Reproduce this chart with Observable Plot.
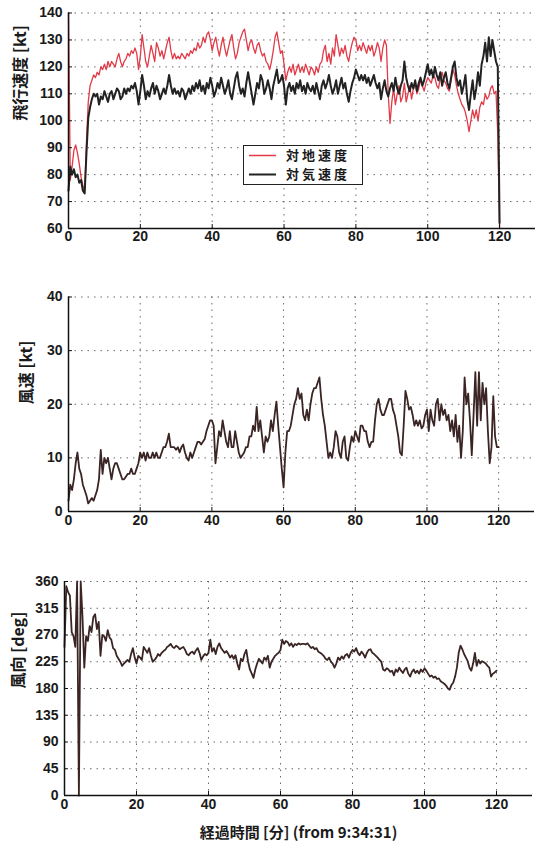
<!DOCTYPE html>
<html>
<head>
<meta charset="utf-8">
<script src="https://cdn.jsdelivr.net/npm/d3@7"></script>
<script src="https://cdn.jsdelivr.net/npm/@observablehq/plot@0.6"></script>
<style>
  body { margin: 0; background: #fff; }
  #wrap { position: relative; width: 541px; height: 850px; overflow: hidden; background: #fff; }
  .panel { position: absolute; left: 0; }
  .panel text { font-weight: 700; }
  #legend { position: absolute; left: 243px; top: 145px; width: 120px; height: 40px; box-sizing: border-box;
            border: 1.5px solid #222; background: #fff; }
  #legend svg { position: absolute; left: 0; top: 0; overflow: visible; }
</style>
</head>
<body>
<div id="wrap"></div>
<script>
// ---- data (sampled every 0.5 minute, 0 .. 120 min) ----
const minutes = d3.range(0, 120.25, 0.5);
const xTicks = [0, 20, 40, 60, 80, 100, 120];

const speedTicks = [60, 70, 80, 90, 100, 110, 120, 130, 140];
const windSpeedTicks = [0, 10, 20, 30, 40];
const windDirTicks = [0, 45, 90, 135, 180, 225, 270, 315, 360];

const seriesNames = ["対地速度", "対気速度"];

// ground speed [kt]
const groundSpeed = [
  140,78,83,89,91,88,84,79,76,74,
  92,107,113,115,117,116,118,117,120,119,
  121,119,122,120,122,121,120,123,125,122,
  120,122,123,125,124,126,125,127,125,119,
  124,132,127,122,120,124,128,125,122,129,
  127,124,126,123,126,129,131,126,123,125,
  123,124,123,125,124,123,125,124,126,125,
  127,126,129,127,128,131,129,132,133,130,
  126,129,131,127,124,128,131,127,124,127,
  130,132,127,123,125,129,131,133,134,130,
  126,129,130,127,125,128,129,126,124,125,
  122,121,119,122,126,131,133,129,125,126,
  121,115,118,120,118,121,117,119,121,118,
  120,118,121,119,117,120,119,117,120,118,
  121,122,126,128,122,125,121,127,124,132,
  128,124,127,125,128,124,122,126,129,131,
  130,126,128,126,129,127,125,128,126,128,
  124,126,129,127,122,127,130,128,110,99,
  107,112,106,110,113,107,109,114,107,110,
  113,108,112,114,110,112,115,113,111,114,
  116,115,114,117,116,113,112,116,118,115,
  114,112,111,115,119,117,113,110,108,106,
  105,103,100,96,100,104,101,104,100,105,
  107,106,110,108,109,112,113,110,111,95,
  60
];

// air speed [kt]
const airSpeed = [
  74,83,80,82,79,80,77,78,74,73,
  88,101,105,108,110,109,110,106,109,108,
  111,109,107,110,111,108,110,112,111,108,
  109,112,110,112,111,113,112,114,111,106,
  111,117,113,108,111,109,112,114,110,113,
  111,108,110,112,110,113,117,113,110,112,
  110,111,109,112,111,108,110,112,110,113,
  111,114,112,115,111,113,110,114,112,116,
  113,109,111,114,112,116,113,110,112,115,
  110,108,112,116,118,113,110,112,109,114,
  118,114,110,106,110,114,112,117,115,110,
  112,115,112,108,113,116,119,114,115,117,
  113,106,112,114,111,113,110,114,112,115,
  111,113,110,114,112,111,113,110,114,111,
  108,113,115,112,114,117,113,110,112,115,
  110,113,116,112,114,110,107,111,114,116,
  119,117,115,117,115,117,114,116,113,115,
  117,114,112,114,108,112,115,111,109,112,
  114,111,116,112,110,113,115,122,116,113,
  111,114,112,115,111,114,116,113,115,118,
  121,117,119,116,120,117,115,118,113,116,
  118,114,112,116,120,122,116,113,115,110,
  113,117,108,104,110,115,108,112,118,113,
  121,124,129,122,131,124,130,126,122,120,
  62
];

// wind speed [kt]
const windSpeed = [
  2,5,4,6,9,11,8,7,5,4,
  3,1.5,2,2.5,2,3,4,6,11.5,7,
  10,9,10,8,6,8,9,9,8,7,
  6,6,6.5,7,7,8,7,7,8,9,
  11,10,11,9.5,11,10,10,11,10,11,
  10,10,11,12,12,13,14.5,12,12,12,
  11.5,12,11,12,12.5,11,10,9.5,11,10,
  11,12,13,13,12.5,13,13.5,15,16,17,
  17,16,9,12,15,14,17,15,13,12,
  15,12,12,15,13,11,10,10.5,11,12,
  12,14,14,16,15,19.5,15,17,14,11,
  14,13,14,17,15,18,20.5,16,12,8,
  4.5,11,15,15,16,18,20,21,23,21,
  22,18,17,19,17,20,22,23,23,24,
  25,21,18,16,13,10,11,10,12,15,
  14,11,10,13,14,10,9.5,12,14,13,
  15,14,13,16,16,15,15,13,12,13,
  13,17,20,21,19,18,18,19,20,21,
  21,19,18,16,14,11,10.5,16,22.5,21,
  19,19.5,18,16,17,16,17,15.5,16,18,
  19,15,19,17,16,20,21,17,20,18,
  19,17,18,15,17,14,18,13,16,10,
  15,25,20,22,17,10.5,18,26,16,26,
  17,24,20,23,15,9,12,21.5,14,12,
  12
];

// wind direction [deg]
const windDir = [
  250,352,342,336,275,268,250,360,0,360,
  300,215,268,260,285,275,300,305,280,292,
  235,270,268,260,278,266,262,248,245,235,
  230,225,218,222,225,228,225,238,248,232,
  222,235,232,228,250,245,240,248,235,225,
  228,232,238,235,240,243,245,250,252,255,
  250,248,252,250,246,248,250,245,238,236,
  240,242,238,244,248,240,228,234,238,236,
  240,262,242,248,238,250,256,248,244,240,
  243,238,232,236,230,236,222,212,230,226,
  238,245,225,212,205,198,212,222,230,226,
  222,232,228,235,215,225,230,235,238,240,
  245,262,255,260,258,252,256,250,255,253,
  256,254,255,255,254,256,252,248,250,246,
  248,242,240,238,235,230,228,232,225,222,
  215,222,232,228,234,230,236,238,232,240,
  245,242,248,240,236,242,238,232,240,245,
  246,240,238,235,232,228,225,212,210,214,
  212,208,210,202,212,208,215,210,206,212,
  215,205,200,208,212,206,210,205,212,208,
  214,210,205,200,202,198,200,196,197,192,
  190,188,185,180,178,186,190,200,215,240,
  252,246,238,232,226,215,210,222,240,218,
  228,222,226,224,222,218,215,200,205,207,
  210
];

// ---- build ----
for (const [n, a] of [["groundSpeed", groundSpeed], ["airSpeed", airSpeed], ["windSpeed", windSpeed], ["windDir", windDir]]) {
  if (a.length !== minutes.length) console.error(n + " length " + a.length + " != " + minutes.length);
}
const rows = (vals) => minutes.map((t, i) => ({t, v: vals[i]}));

const tickFont = "'Liberation Sans', Arial, sans-serif";
const cjkFont = "'Noto Sans CJK JP', sans-serif";
const gridStyle = {stroke: "#6a6a6a", strokeOpacity: 1, strokeWidth: 1, strokeDasharray: "1.5,5"};

function panel({top, height, mt, mb, ml, mr, ydom, yticks, lines, ylabel, labelLeft, xOffset, xlabel}) {
  const marks = [
    Plot.gridY(yticks.slice(1), gridStyle),
    Plot.gridX(xTicks.slice(1), gridStyle),
    ...lines,
    Plot.ruleX([0], {stroke: "#111", strokeWidth: 1.5}),
    Plot.ruleY([ydom[0]], {stroke: "#111", strokeWidth: 1.5}),
    Plot.axisX({ticks: xTicks, tickFormat: d => String(d), tickSize: -4, tickPadding: xOffset - 4 - 5,
      label: null, fontSize: 14, fontWeight: "bold", fontFamily: tickFont, stroke: "#111", fill: "#1a1a1a"}),
    Plot.axisY({ticks: yticks, tickFormat: d => String(d), tickSize: -4, tickPadding: 10,
      label: null, fontSize: 14, fontWeight: "bold", fontFamily: tickFont, stroke: "#111", fill: "#1a1a1a"}),
    Plot.text([ylabel], {text: d => d, frameAnchor: "left", rotate: -90, lineAnchor: "top",
      dx: labelLeft - ml, fontSize: 16, fontWeight: "bold", fontFamily: cjkFont, fill: "#1a1a1a"})
  ];
  if (xlabel) {
    marks.push(Plot.text([xlabel], {text: d => d, frameAnchor: "bottom", lineAnchor: "middle", dy: 38,
      fontSize: 15, fontWeight: "bold", fontFamily: cjkFont, fill: "#1a1a1a"}));
  }
  const svg = Plot.plot({
    width: 541, height,
    marginTop: mt, marginBottom: mb, marginLeft: ml, marginRight: mr,
    x: {domain: [0, 130]},
    y: {domain: ydom},
    style: {background: "transparent", overflow: "visible", fontFamily: tickFont, fontSize: "14px", fontWeight: "bold"},
    marks
  });
  svg.classList.add("panel");
  svg.style.top = top + "px";
  document.getElementById("wrap").appendChild(svg);
}

const redColor = "#e23a47";
const darkColor = "#222";
const brownColor = "#3b2524";

panel({
  top: 0, height: 258, mt: 12.5, mb: 30, ml: 68, mr: 6,
  ydom: [60, 140], yticks: speedTicks, xOffset: 15.5,
  ylabel: "飛行速度 [kt]", labelLeft: 14,
  lines: [
    Plot.line(rows(groundSpeed), {x: "t", y: "v", stroke: redColor, strokeWidth: 1.3}),
    Plot.line(rows(airSpeed), {x: "t", y: "v", stroke: darkColor, strokeWidth: 2})
  ]
});

panel({
  top: 270, height: 270, mt: 26.5, mb: 29, ml: 68, mr: 7,
  ydom: [0, 40], yticks: windSpeedTicks, xOffset: 17,
  ylabel: "風速 [kt]", labelLeft: 20,
  lines: [Plot.line(rows(windSpeed), {x: "t", y: "v", stroke: brownColor, strokeWidth: 1.8})]
});

panel({
  top: 560, height: 290, mt: 21, mb: 55, ml: 64, mr: 9,
  ydom: [0, 360], yticks: windDirTicks, xOffset: 17,
  ylabel: "風向 [deg]", labelLeft: 12,
  xlabel: "経過時間 [分] (from 9:34:31)",
  lines: [Plot.line(rows(windDir), {x: "t", y: "v", stroke: brownColor, strokeWidth: 1.8})]
});

// legend (inside the top panel): white box, line samples, labels
const legend = document.createElement("div");
legend.id = "legend";
const lgColors = [redColor, darkColor];
const lgWidths = [1.5, 2];
const rowY = [9.5, 28.5];
legend.innerHTML =
  `<svg width="117" height="37">` +
  seriesNames.map((name, i) =>
    `<line x1="5" x2="32" y1="${rowY[i]}" y2="${rowY[i]}" stroke="${lgColors[i]}" stroke-width="${lgWidths[i]}"/>` +
    `<text x="42" y="${rowY[i]}" dy="0.36em" font-family="'Noto Sans CJK JP', sans-serif" font-weight="bold"
       font-size="13" letter-spacing="3" fill="#1a1a1a">${name}</text>`
  ).join("") +
  `</svg>`;
document.getElementById("wrap").appendChild(legend);
</script>
</body>
</html>
